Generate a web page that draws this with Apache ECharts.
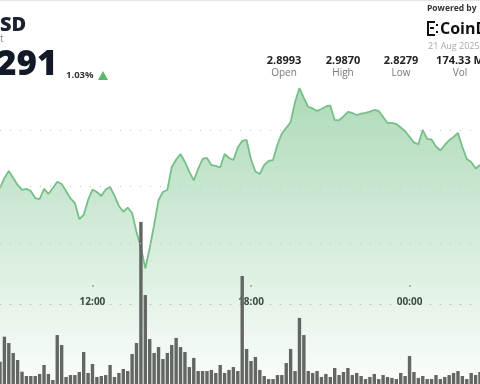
<!DOCTYPE html>
<html><head><meta charset="utf-8">
<script src="https://cdn.jsdelivr.net/npm/echarts@6/dist/echarts.min.js"></script>
<style>html,body{margin:0;padding:0;background:#fff}#c{width:480px;height:384px}</style>
</head><body><div id="c"></div>
<script>
// ---- data (10-minute buckets, visible window) ----
const startTime = '08:30';
const stepMinutes = 10;
const tickLabels = ['12:00', '18:00', '00:00'];
const gridLevels = [2.85, 2.90, 2.95];
const prices = [
  2.8988, 2.9077, 2.9138, 2.9077, 2.9015, 2.8971, 2.8980, 2.8962, 2.8900, 2.8891,
  2.8980, 2.8936, 2.8988, 2.9044, 2.9024, 2.8962, 2.8896, 2.8856, 2.8715, 2.8750,
  2.8883, 2.8975, 2.8953, 2.8918, 2.8975, 2.8997, 2.8918, 2.8830, 2.8779, 2.8816,
  2.8768, 2.8600, 2.8464, 2.8279, 2.8459, 2.8662, 2.8883, 2.8953, 2.8971, 2.9174,
  2.9240, 2.9288, 2.9218, 2.9130, 2.9055, 2.9156, 2.9244, 2.9253, 2.9191, 2.9183,
  2.9169, 2.9288, 2.9253, 2.9235, 2.9346, 2.9403, 2.9412, 2.9240, 2.9134, 2.9112,
  2.9191, 2.9227, 2.9235, 2.9372, 2.9469, 2.9518, 2.9571, 2.9747, 2.9870, 2.9782,
  2.9703, 2.9690, 2.9668, 2.9685, 2.9707, 2.9716, 2.9588, 2.9586, 2.9619, 2.9659,
  2.9650, 2.9632, 2.9644, 2.9650, 2.9661, 2.9676, 2.9668, 2.9615, 2.9562, 2.9562,
  2.9553, 2.9522, 2.9489, 2.9440, 2.9390, 2.9374, 2.9500, 2.9421, 2.9416, 2.9354,
  2.9319, 2.9368, 2.9410, 2.9438, 2.9474, 2.9350, 2.9244, 2.9218, 2.9160, 2.9191
];
const volumes = [ // millions
  1.39, 2.96, 2.56, 1.94, 1.50, 0.77, 0.50, 0.50, 0.50, 0.63,
  1.19, 0.63, 0.25, 3.06, 2.44, 0.44, 0.56, 0.56, 0.75, 2.00,
  0.69, 1.25, 0.44, 0.50, 0.56, 1.19, 0.44, 0.69, 0.94, 0.81,
  1.88, 2.56, 10.13, 5.56, 2.81, 1.94, 2.31, 1.56, 1.94, 2.44,
  2.88, 2.31, 2.00, 1.06, 1.63, 0.81, 0.81, 0.81, 0.88, 0.69,
  1.19, 0.69, 0.88, 1.06, 0.81, 6.75, 2.19, 1.44, 1.69, 0.88,
  0.50, 0.31, 0.31, 0.56, 0.56, 1.31, 2.19, 0.81, 4.13, 3.06,
  0.81, 0.69, 0.81, 0.44, 0.63, 0.44, 1.00, 0.56, 0.75, 1.00,
  0.56, 0.69, 0.50, 0.31, 0.44, 0.63, 0.31, 0.56, 0.44, 0.38,
  0.31, 0.69, 0.50, 1.75, 0.75, 0.38, 0.50, 0.31, 0.31, 0.56,
  0.31, 0.44, 0.56, 0.69, 0.81, 0.50, 0.31, 0.69, 0.56, 0.75
];
const statValues = ['2.8993', '2.9870', '2.8279', '174.33 M'];
const statNames = ['Open', 'High', 'Low', 'Vol'];

// ---- build category times ----
const times = [];
(function () {
  const p = startTime.split(':');
  let m = (+p[0]) * 60 + (+p[1]);
  for (let i = 0; i < prices.length; i++) {
    const mm = ((m + i * stepMinutes) % 1440 + 1440) % 1440;
    times.push(String(Math.floor(mm / 60)).padStart(2, '0') + ':' + String(mm % 60).padStart(2, '0'));
  }
})();
const showTick = (idx, val) => tickLabels.indexOf(val) >= 0;

const FONT = '"Open Sans", "Noto Sans", sans-serif';
const chart = echarts.init(document.getElementById('c'), null, { renderer: 'canvas' });

const statX = [284, 343, 401, 460];
const graphics = [
  { type: 'line', shape: { x1: 0, y1: 0.5, x2: 480, y2: 0.5 }, style: { stroke: '#e4e4e4', lineWidth: 1 } },
  { type: 'text', x: 0, y: 25, style: { text: 'SD', font: '800 20px ' + FONT, fill: '#1b2230', textAlign: 'left', textVerticalAlign: 'middle' } },
  { type: 'text', x: 0, y: 39, style: { text: 't', font: '10px ' + FONT, fill: '#8a8a8a', textAlign: 'left', textVerticalAlign: 'middle' } },
  { type: 'text', x: -4, y: 65, style: { text: '291', font: '800 35px ' + FONT, fill: '#121a28', textAlign: 'left', textVerticalAlign: 'middle' } },
  { type: 'text', x: 66, y: 75, style: { text: '1.03%', font: 'bold 9.5px ' + FONT, fill: '#333', textAlign: 'left', textVerticalAlign: 'middle' } },
  { type: 'polygon', shape: { points: [[98, 80], [108, 80], [103, 71]] }, style: { fill: '#5cb86c' } },
  { type: 'text', x: 427, y: 9, style: { text: 'Powered by', font: 'bold 8.5px ' + FONT, fill: '#333', textAlign: 'left', textVerticalAlign: 'middle' } },
  { type: 'rect', shape: { x: 427, y: 21, width: 2, height: 15 }, style: { fill: '#111' } },
  { type: 'rect', shape: { x: 427, y: 21, width: 8, height: 2 }, style: { fill: '#111' } },
  { type: 'rect', shape: { x: 427, y: 34, width: 8, height: 2 }, style: { fill: '#111' } },
  { type: 'rect', shape: { x: 430, y: 27, width: 4, height: 2 }, style: { fill: '#111' } },
  { type: 'rect', shape: { x: 436, y: 24, width: 2, height: 2 }, style: { fill: '#111' } },
  { type: 'rect', shape: { x: 436, y: 31, width: 2, height: 2 }, style: { fill: '#111' } },
  { type: 'text', x: 440, y: 29, style: { text: 'CoinDesk', font: 'bold 16px ' + FONT, fill: '#111', textAlign: 'left', textVerticalAlign: 'middle' } },
  { type: 'text', x: 428, y: 46, style: { text: '21 Aug 2025', font: '9px ' + FONT, fill: '#a8a8a8', textAlign: 'left', textVerticalAlign: 'middle' } }
];
statValues.forEach((v, i) => {
  graphics.push({ type: 'text', x: statX[i], y: 60.5, style: { text: v, font: 'bold 11px ' + FONT, fill: '#222', textAlign: 'center', textVerticalAlign: 'middle' } });
  graphics.push({ type: 'text', x: statX[i], y: 73.5, style: { text: statNames[i], font: '10px ' + FONT, fill: '#777', textAlign: 'center', textVerticalAlign: 'middle' } });
});

chart.setOption({
  animation: false,
  backgroundColor: '#fff',
  grid: [
    { left: 0, right: 0, top: 0, bottom: 0 },
    { left: 0, right: 0, top: 0, bottom: 80 },
    { left: 0, right: 0, top: 0, bottom: 97 }
  ],
  xAxis: [
    { type: 'category', gridIndex: 0, data: times, boundaryGap: false, show: false },
    {
      type: 'category', gridIndex: 1, data: times, boundaryGap: false,
      axisLine: { show: true, lineStyle: { color: '#c4c4c4', type: [1, 9], width: 1 } },
      axisTick: { show: false },
      splitLine: { show: false },
      axisLabel: { interval: showTick, margin: -2, verticalAlign: 'middle', fontSize: 10, fontWeight: 'bold', color: '#333', fontFamily: FONT }
    },
    {
      type: 'category', gridIndex: 2, data: times, boundaryGap: false,
      axisLine: { show: false },
      axisTick: { show: true, inside: true, length: 2, interval: showTick, lineStyle: { color: '#a0a0a0', width: 1.5 } },
      axisLabel: { show: false },
      splitLine: { show: false }
    }
  ],
  yAxis: [
    { type: 'value', gridIndex: 0, min: 2.726, max: 3.0646, show: false },
    { type: 'value', gridIndex: 0, min: 0, max: 24, show: false },
    { type: 'value', gridIndex: 1, show: false },
    { type: 'value', gridIndex: 2, show: false }
  ],
  graphic: graphics,
  series: [
    {
      type: 'line', xAxisIndex: 0, yAxisIndex: 0, data: prices,
      showSymbol: false, symbol: 'none',
      lineStyle: { color: '#76bf89', width: 1.8 },
      areaStyle: {
        color: new echarts.graphic.LinearGradient(0, 0, 0, 1, [
          { offset: 0, color: 'rgba(100,185,120,0.75)' },
          { offset: 1, color: 'rgba(100,185,120,0.04)' }
        ])
      },
      markLine: {
        silent: true, symbol: 'none', label: { show: false },
        lineStyle: { color: '#c4c4c4', type: [1, 9], width: 1 },
        data: gridLevels.map(v => ({ yAxis: v }))
      },
      z: 2
    },
    {
      type: 'bar', xAxisIndex: 0, yAxisIndex: 1, data: volumes,
      barWidth: 3.4, itemStyle: { color: '#626763' }, z: 3
    }
  ]
});
</script></body></html>
